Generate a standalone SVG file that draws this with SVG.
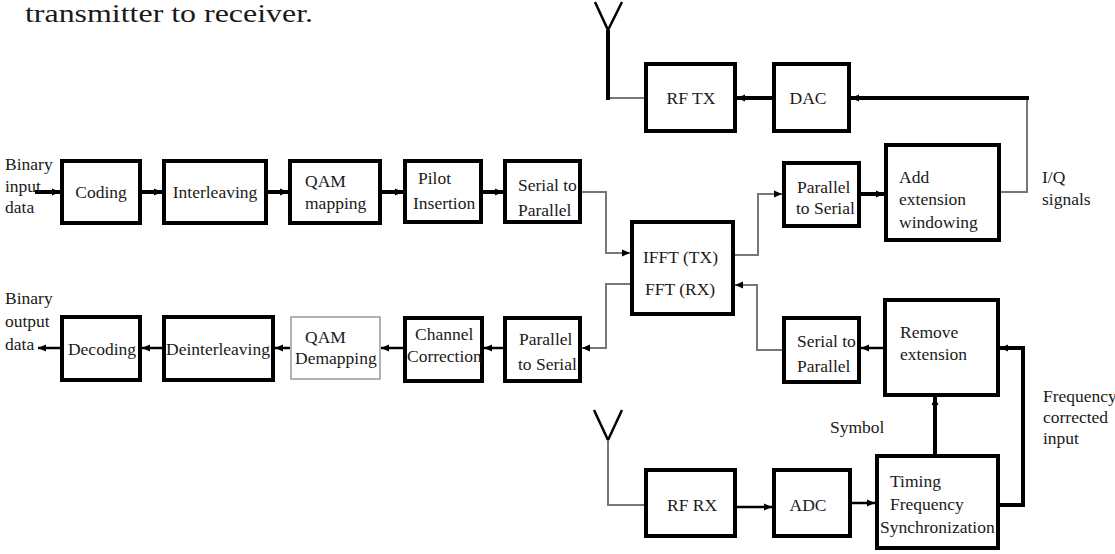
<svg xmlns="http://www.w3.org/2000/svg" width="1115" height="554" viewBox="0 0 1115 554">
<defs>
<style>
text{font-family:"Liberation Serif","Times New Roman",serif;font-size:17.5px;fill:#1a1a1a}
.b{fill:#fff;stroke:#000;stroke-width:4}
.g{fill:#fff;stroke:#999;stroke-width:1.5}
.k{fill:none;stroke:#000;stroke-width:4}
.m{fill:none;stroke:#000;stroke-width:2.5}
.t{fill:none;stroke:#777;stroke-width:2}
.c{text-anchor:middle}
</style>
<marker id="a" viewBox="0 0 8 8" refX="8" refY="4" markerWidth="8" markerHeight="8" markerUnits="userSpaceOnUse" orient="auto">
<path d="M0,0.5 L8,4 L0,7.5 Z" fill="#000"/>
</marker>
</defs>
<rect width="1115" height="554" fill="#fff"/>
<text x="25" y="22" style="font-size:26px" textLength="288" lengthAdjust="spacingAndGlyphs">transmitter to receiver.</text>

<g id="connectors">
<path class="k" d="M35,192 H60" marker-end="url(#a)"/>
<path class="k" d="M142,192 H162" marker-end="url(#a)"/>
<path class="k" d="M268,192 H288" marker-end="url(#a)"/>
<path class="k" d="M382,192 H403" marker-end="url(#a)"/>
<path class="k" d="M483,192 H503" marker-end="url(#a)"/>
<path class="t" d="M582,192 H606 V253 H630" marker-end="url(#a)"/>
<path class="t" d="M735,255 H758 V194 H782" marker-end="url(#a)"/>
<path class="k" d="M861,194 H884" marker-end="url(#a)"/>
<path class="t" d="M1001,192 H1027 V98"/>
<path class="k" d="M1029,98 H851" marker-end="url(#a)"/>
<path class="k" d="M772,98 H737" marker-end="url(#a)"/>
<path class="t" d="M644,98 H608"/>
<path class="k" d="M608,100 V30"/>
<path class="m" d="M595,2 L608,30 L622,2"/>
<path class="t" d="M782,350 H757 V285 H735" marker-end="url(#a)"/>
<path class="t" d="M630,284 H606 V348 H582" marker-end="url(#a)"/>
<path class="m" d="M503,348 H484" marker-end="url(#a)"/>
<path class="m" d="M403,348 H381" marker-end="url(#a)"/>
<path class="m" d="M290,348 H275" marker-end="url(#a)"/>
<path class="m" d="M162,348 H142" marker-end="url(#a)"/>
<path class="m" d="M60,348 H38" marker-end="url(#a)"/>
<path class="m" d="M883,348 H861" marker-end="url(#a)"/>
<path class="k" d="M1000,505 H1023 V348 H1000" marker-end="url(#a)"/>
<path class="k" d="M935,454 V397" marker-end="url(#a)"/>
<path class="m" d="M737,507 H772" marker-end="url(#a)"/>
<path class="m" d="M852,503 H875" marker-end="url(#a)"/>
<path class="m" d="M594,410 L608,440 L622,410"/>
<path class="t" d="M608,440 V505 H644"/>
</g>

<g id="labels">
<text x="5" y="170">Binary</text>
<text x="5" y="192">input</text>
<text x="5" y="213">data</text>
<text x="5" y="304">Binary</text>
<text x="5" y="327">output</text>
<text x="5" y="350">data</text>
<text x="1042" y="183">I/Q</text>
<text x="1042" y="205">signals</text>
<text x="830" y="433">Symbol</text>
<text x="1043" y="402">Frequency</text>
<text x="1043" y="423">corrected</text>
<text x="1043" y="444">input</text>
</g>

<g id="coding"><rect class="b" x="62" y="161" width="78" height="62"/><text class="c" x="101" y="198">Coding</text></g>
<g id="interleaving"><rect class="b" x="164" y="161" width="102" height="62"/><text class="c" x="215" y="198">Interleaving</text></g>
<g id="qam-mapping"><rect class="b" x="290" y="161" width="90" height="62"/><text x="305" y="187">QAM</text><text x="305" y="209">mapping</text></g>
<g id="pilot"><rect class="b" x="405" y="161" width="76" height="61"/><text x="418" y="184">Pilot</text><text x="413" y="209">Insertion</text></g>
<g id="s2p-tx"><rect class="b" x="505" y="161" width="75" height="61"/><text x="518" y="191">Serial to</text><text x="518" y="216">Parallel</text></g>
<g id="fft"><rect class="b" x="632" y="222" width="101" height="92"/><text x="643" y="263">IFFT (TX)</text><text x="645" y="295">FFT (RX)</text></g>
<g id="p2s-tx"><rect class="b" x="784" y="163" width="75" height="63"/><text x="797" y="193">Parallel</text><text x="796" y="214">to Serial</text></g>
<g id="add-ext"><rect class="b" x="886" y="145" width="113" height="95"/><text x="899" y="183">Add</text><text x="899" y="205">extension</text><text x="899" y="228">windowing</text></g>
<g id="rf-tx"><rect class="b" x="646" y="64" width="89" height="67"/><text class="c" x="691" y="104">RF TX</text></g>
<g id="dac"><rect class="b" x="774" y="64" width="75" height="67"/><text class="c" x="808" y="104">DAC</text></g>
<g id="decoding"><rect class="b" x="62" y="317" width="78" height="63"/><text class="c" x="102" y="355">Decoding</text></g>
<g id="deinterleaving"><rect class="b" x="164" y="317" width="109" height="63"/><text class="c" x="218" y="355">Deinterleaving</text></g>
<g id="qam-demapping"><rect class="g" x="291" y="317" width="89" height="62"/><text x="305" y="343">QAM</text><text x="295" y="364">Demapping</text></g>
<g id="channel"><rect class="b" x="405" y="318" width="77" height="63"/><text x="415" y="340">Channel</text><text x="407" y="362">Correction</text></g>
<g id="p2s-rx"><rect class="b" x="505" y="318" width="75" height="63"/><text x="519" y="345">Parallel</text><text x="518" y="370">to Serial</text></g>
<g id="s2p-rx"><rect class="b" x="784" y="318" width="75" height="64"/><text x="797" y="347">Serial to</text><text x="797" y="372">Parallel</text></g>
<g id="remove-ext"><rect class="b" x="885" y="300" width="113" height="95"/><text x="900" y="338">Remove</text><text x="900" y="360">extension</text></g>
<g id="rf-rx"><rect class="b" x="646" y="470" width="89" height="66"/><text class="c" x="692" y="511">RF RX</text></g>
<g id="adc"><rect class="b" x="774" y="470" width="76" height="66"/><text class="c" x="808" y="511">ADC</text></g>
<g id="timing"><rect class="b" x="877" y="456" width="121" height="92"/><text x="890" y="487">Timing</text><text x="890" y="510">Frequency</text><text x="880" y="533">Synchronization</text></g>
</svg>
